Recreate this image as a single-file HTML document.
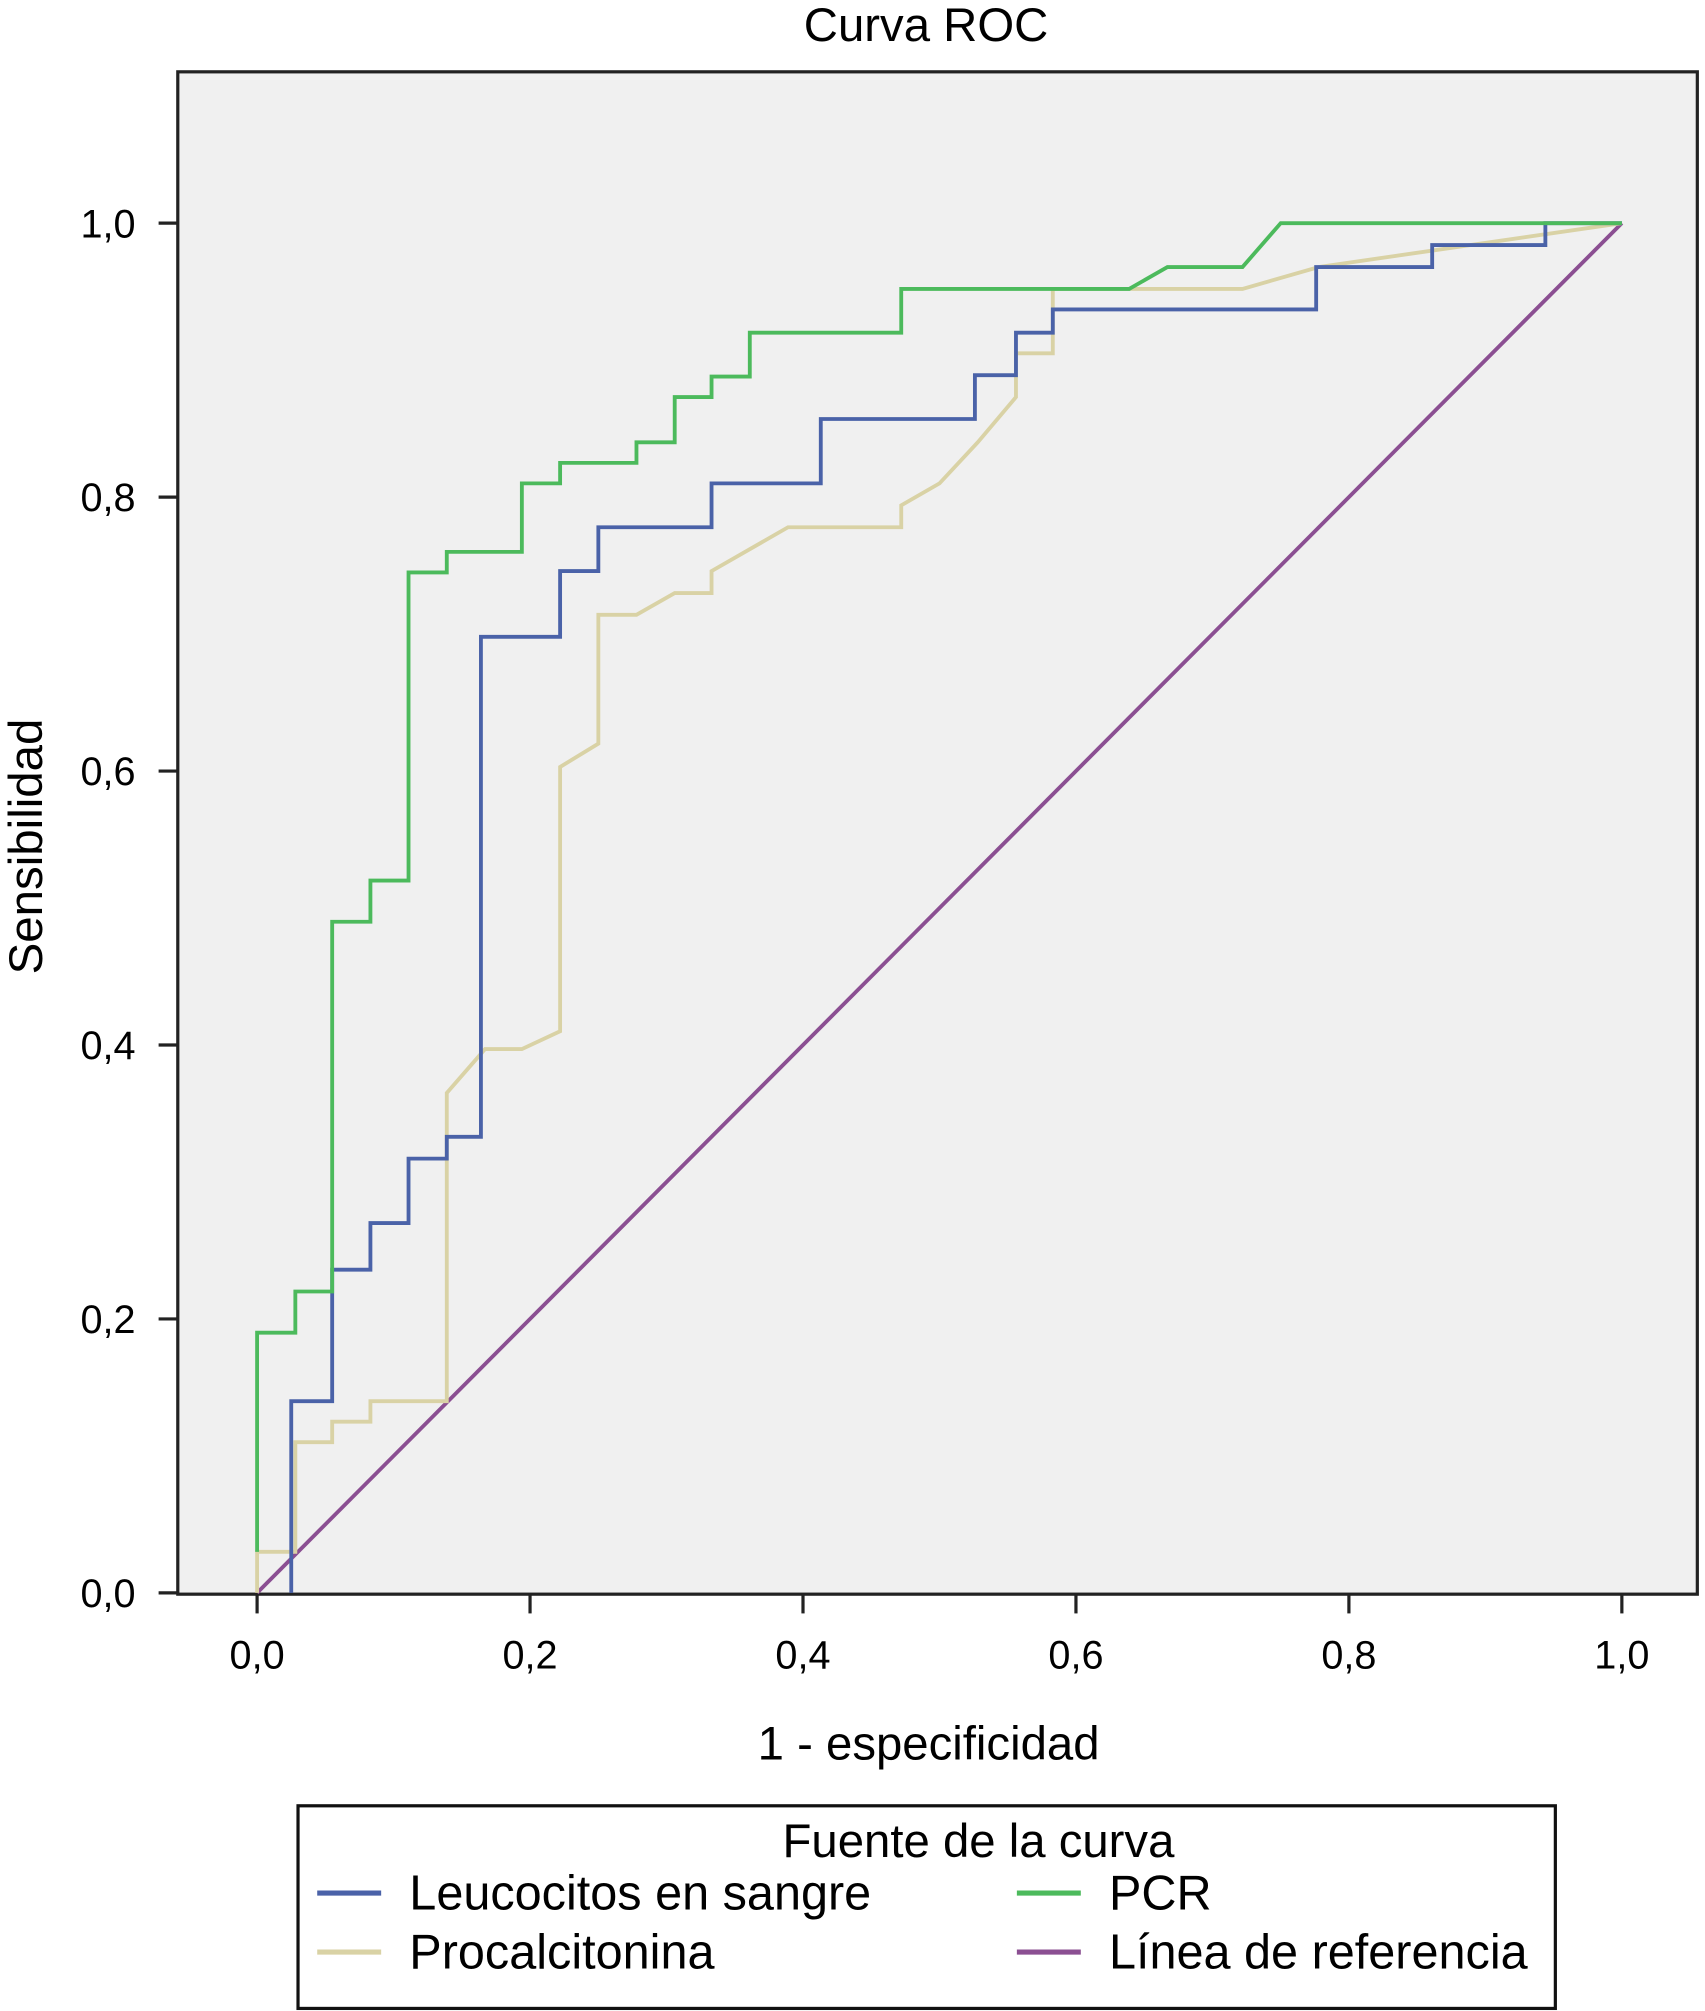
<!DOCTYPE html>
<html><head><meta charset="utf-8"><style>
html,body{margin:0;padding:0;background:#fff;}
svg{display:block;}
text{font-family:"Liberation Sans",Arial,sans-serif;fill:#000;}
</style></head><body>
<svg id="chart" width="1705" height="2011" viewBox="0 0 1333 1568" preserveAspectRatio="none" xmlns="http://www.w3.org/2000/svg">
<text x="724" y="32" font-size="37" text-anchor="middle">Curva ROC</text>
<rect x="139" y="56" width="1188" height="1187" fill="#f0f0f0" stroke="#222" stroke-width="2.5"/>
<g id="axes"></g>
<g id="series"></g>
<text x="726" y="1372" font-size="37" text-anchor="middle">1 - especificidad</text>
<text x="0" y="0" font-size="37" text-anchor="middle" transform="translate(33,660) rotate(-90)">Sensibilidad</text>
<g>
<rect x="233" y="1408" width="983" height="158" fill="#fff" stroke="#111" stroke-width="2.5"/>
<text x="765" y="1448" font-size="37" text-anchor="middle">Fuente de la curva</text>
<line x1="248" y1="1476" x2="298" y2="1476" stroke="#4a62a8" stroke-width="4"/>
<text x="320" y="1489" font-size="38">Leucocitos en sangre</text>
<line x1="795" y1="1476" x2="845" y2="1476" stroke="#4cba5c" stroke-width="4"/>
<text x="867" y="1489" font-size="38">PCR</text>
<line x1="248" y1="1522" x2="298" y2="1522" stroke="#d9d2a5" stroke-width="4"/>
<text x="320" y="1535" font-size="38">Procalcitonina</text>
<line x1="795" y1="1522" x2="845" y2="1522" stroke="#8b4f92" stroke-width="4"/>
<text x="867" y="1535" font-size="38">Línea de referencia</text>
</g>
</svg>
<script>
const xTicks=[0,0.2,0.4,0.6,0.8,1.0];
const yTicks=[0,0.2,0.4,0.6,0.8,1.0];
const tickLabels=["0,0","0,2","0,4","0,6","0,8","1,0"];
const pcrX=[0,0,0.028,0.028,0.055,0.055,0.083,0.083,0.111,0.111,0.139,0.139,0.194,0.194,0.222,0.222,0.278,0.278,0.306,0.306,0.333,0.333,0.361,0.361,0.472,0.472,0.639,0.667,0.722,0.75,1.0];
const pcrY=[0.03,0.19,0.19,0.22,0.22,0.49,0.49,0.52,0.52,0.745,0.745,0.76,0.76,0.81,0.81,0.825,0.825,0.84,0.84,0.873,0.873,0.888,0.888,0.92,0.92,0.952,0.952,0.968,0.968,1.0,1.0];
const leuX=[0.025,0.025,0.055,0.055,0.083,0.083,0.111,0.111,0.139,0.139,0.164,0.164,0.222,0.222,0.25,0.25,0.333,0.333,0.413,0.413,0.526,0.526,0.556,0.556,0.583,0.583,0.776,0.776,0.861,0.861,0.944,0.944,1.0];
const leuY=[0,0.14,0.14,0.236,0.236,0.27,0.27,0.317,0.317,0.333,0.333,0.698,0.698,0.746,0.746,0.778,0.778,0.81,0.81,0.857,0.857,0.889,0.889,0.92,0.92,0.937,0.937,0.968,0.968,0.984,0.984,1.0,1.0];
const proX=[0,0,0.028,0.028,0.055,0.055,0.083,0.083,0.139,0.139,0.167,0.194,0.222,0.222,0.25,0.25,0.278,0.306,0.333,0.333,0.361,0.389,0.472,0.472,0.5,0.528,0.556,0.556,0.583,0.583,0.722,0.778,0.889,1.0];
const proY=[0,0.03,0.03,0.11,0.11,0.125,0.125,0.14,0.14,0.365,0.397,0.397,0.41,0.603,0.62,0.714,0.714,0.73,0.73,0.746,0.762,0.778,0.778,0.794,0.81,0.84,0.873,0.905,0.905,0.952,0.952,0.968,0.984,1.0];
const refX=[0,1];
const refY=[0,1];
const X0=201,X1=1268,Y0=1242,Y1=174;
function sx(v){return X0+v*(X1-X0);}
function sy(v){return Y0-v*(Y0-Y1);}
const NS="http://www.w3.org/2000/svg";
const axes=document.getElementById('axes');
xTicks.forEach((t,i)=>{
 const l=document.createElementNS(NS,'line');
 l.setAttribute('x1',sx(t));l.setAttribute('x2',sx(t));l.setAttribute('y1',1243);l.setAttribute('y2',1258);
 l.setAttribute('stroke','#222');l.setAttribute('stroke-width','2.5');
 
 
 axes.appendChild(l);
 const tx=document.createElementNS(NS,'text');
 tx.setAttribute('x',sx(t));tx.setAttribute('y',1301);tx.setAttribute('font-size','31');tx.setAttribute('text-anchor','middle');
 tx.textContent=tickLabels[i];
 
 
 axes.appendChild(tx);
});
yTicks.forEach((t,i)=>{
 const l=document.createElementNS(NS,'line');
 l.setAttribute('x1',124);l.setAttribute('x2',139);l.setAttribute('y1',sy(t));l.setAttribute('y2',sy(t));
 l.setAttribute('stroke','#222');l.setAttribute('stroke-width','2.5');
 
 
 axes.appendChild(l);
 const tx=document.createElementNS(NS,'text');
 tx.setAttribute('x',106);tx.setAttribute('y',sy(t)+11);tx.setAttribute('font-size','31');tx.setAttribute('text-anchor','end');
 tx.textContent=tickLabels[i];
 
 
 axes.appendChild(tx);
});
const ser=document.getElementById('series');
function draw(xs,ys,color,name){
 const p=document.createElementNS(NS,'path');
 p.setAttribute('d',xs.map((x,i)=>(i?'L':'M')+sx(x).toFixed(1)+' '+sy(ys[i]).toFixed(1)).join(' '));
 p.setAttribute('fill','none');p.setAttribute('stroke',color);p.setAttribute('stroke-width','3');
 
 
 ser.appendChild(p);
}
draw(refX,refY,'#8b4f92','reference-line');
draw(proX,proY,'#d9d2a5','procalcitonina-curve');
draw(leuX,leuY,'#4a62a8','leucocitos-curve');
draw(pcrX,pcrY,'#4cba5c','pcr-curve');
</script>
</body></html>
